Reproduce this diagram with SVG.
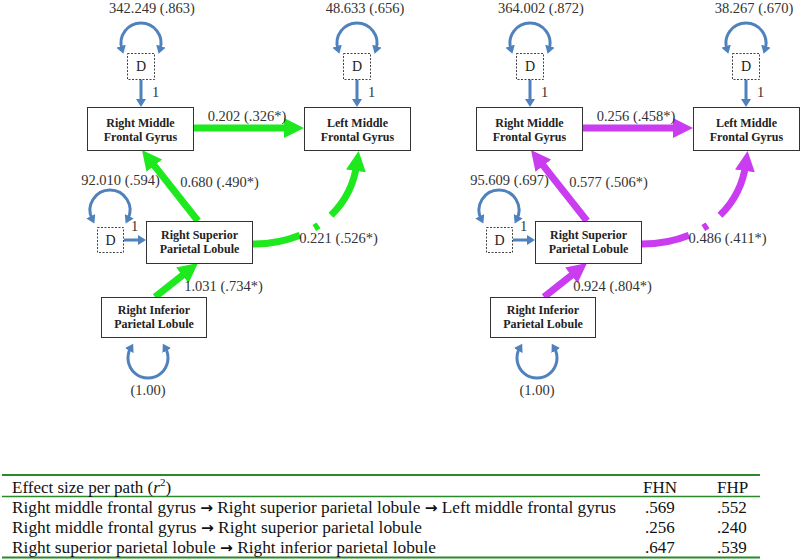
<svg xmlns="http://www.w3.org/2000/svg" width="800" height="560" viewBox="0 0 800 560">
<style>
.box{fill:#fff;stroke:#333;stroke-width:1}
.dbox{fill:#fff;stroke:#444;stroke-width:1;stroke-dasharray:2 1.5}
.nt{font-family:"Liberation Serif",serif;font-weight:bold;font-size:12px;fill:#222;text-anchor:middle}
.dt{font-family:"Liberation Serif",serif;font-size:14px;fill:#222;text-anchor:middle}
.lb{font-family:"Liberation Serif",serif;font-size:14.5px;fill:#333}
.lbm{font-family:"Liberation Serif",serif;font-size:14.5px;fill:#333;text-anchor:middle}
.blue{fill:none;stroke:#4f81bd;stroke-width:3;marker-end:url(#ab)}
.loop{fill:none;stroke:#4f81bd;stroke-width:3;marker-start:url(#abs);marker-end:url(#ab)}
.g{fill:none;stroke:#1ee81e;stroke-width:7;marker-end:url(#ag)}
.m{fill:none;stroke:#c93cf0;stroke-width:7;marker-end:url(#am)}
.tt{font-family:"Liberation Serif",serif;font-size:17px;fill:#111}
.ar{font-family:"DejaVu Sans",sans-serif;font-weight:bold;font-size:15px}
.tl{stroke:#2a8a2a}
</style>
<defs>
<marker id="ag" markerUnits="userSpaceOnUse" markerWidth="20" markerHeight="20" refX="8" refY="10" orient="auto" viewBox="0 0 20 20"><path d="M0,0 L20,10 L0,20 z" fill="#1ee81e"/></marker>
<marker id="am" markerUnits="userSpaceOnUse" markerWidth="20" markerHeight="20" refX="8" refY="10" orient="auto" viewBox="0 0 20 20"><path d="M0,0 L20,10 L0,20 z" fill="#c93cf0"/></marker>
<marker id="ab" markerUnits="userSpaceOnUse" markerWidth="10" markerHeight="10" refX="3" refY="5" orient="auto" viewBox="0 0 10 10"><path d="M0,0 L8,5 L0,10 z" fill="#4f81bd"/></marker>
<marker id="abs" markerUnits="userSpaceOnUse" markerWidth="10" markerHeight="10" refX="3" refY="5" orient="auto-start-reverse" viewBox="0 0 10 10"><path d="M0,0 L8,5 L0,10 z" fill="#4f81bd"/></marker>
</defs>

<!-- Left model (FHN) -->
<g id="left-model">
<g id="connectors-left">
<path class="loop" d="M121.9,49 A20,20 0 1 1 160.1,49"/>
<path class="loop" d="M337.9,49 A20,20 0 1 1 376.1,49"/>
<path class="loop" d="M92.1,219 A20,20 0 1 1 127.9,219"/>
<path class="loop" d="M130.7,348 A20,20 0 1 0 165.3,348"/>
<path class="blue" d="M141,79 L141,102"/>
<path class="blue" d="M357,79 L357,102"/>
<path class="blue" d="M124,240 L141,240"/>
<path class="g" d="M194,128 L292,128"/>
<path class="g" d="M198,221 L149.4,159.4"/>
<path class="g" d="M155,297 L188.6,270.4"/>
<path class="g" d="M253,244 C305,244 350,215 357,163" stroke-dasharray="48 16 5 16 300"/>
<text class="lbm" x="152" y="13">342.249 (.863)</text>
<text class="lbm" x="365" y="13">48.633 (.656)</text>
<text class="lb" x="152" y="97">1</text>
<text class="lb" x="368" y="97">1</text>
<text class="lbm" x="247" y="121">0.202 (.326*)</text>
<text class="lbm" x="120.5" y="185">92.010 (.594)</text>
<text class="lbm" x="219.5" y="187">0.680 (.490*)</text>
<text class="lb" x="131" y="231">1</text>
<text class="lbm" x="338.5" y="243">0.221 (.526*)</text>
<text class="lbm" x="223.5" y="291">1.031 (.734*)</text>
<text class="lbm" x="148" y="395">(1.00)</text>
</g>
<g id="L-D1"><rect class="dbox" x="127.5" y="53.5" width="27" height="26"/><text class="dt" x="141" y="71">D</text></g>
<g id="L-D2"><rect class="dbox" x="343.5" y="53.5" width="27" height="26"/><text class="dt" x="357" y="71">D</text></g>
<g id="L-D3"><rect class="dbox" x="97.5" y="227.5" width="26" height="25"/><text class="dt" x="110.5" y="245">D</text></g>
<g id="L-RMFG"><rect class="box" x="87.5" y="107.5" width="106" height="43"/><text class="nt" x="140.5" y="127">Right Middle</text><text class="nt" x="140.5" y="141">Frontal Gyrus</text></g>
<g id="L-LMFG"><rect class="box" x="304.5" y="107.5" width="106" height="43"/><text class="nt" x="357.5" y="127">Left Middle</text><text class="nt" x="357.5" y="141">Frontal Gyrus</text></g>
<g id="L-RSPL"><rect class="box" x="146.5" y="221.5" width="106" height="42"/><text class="nt" x="199.5" y="238.5">Right Superior</text><text class="nt" x="199.5" y="252.5">Parietal Lobule</text></g>
<g id="L-RIPL"><rect class="box" x="101.5" y="297.5" width="105" height="40"/><text class="nt" x="154" y="314">Right Inferior</text><text class="nt" x="154" y="328">Parietal Lobule</text></g>
</g>

<!-- Right model (FHP) -->
<g id="right-model" transform="translate(389,0)">
<g id="connectors-right">
<path class="loop" d="M121.9,49 A20,20 0 1 1 160.1,49"/>
<path class="loop" d="M337.9,49 A20,20 0 1 1 376.1,49"/>
<path class="loop" d="M92.1,219 A20,20 0 1 1 127.9,219"/>
<path class="loop" d="M130.7,348 A20,20 0 1 0 165.3,348"/>
<path class="blue" d="M141,79 L141,102"/>
<path class="blue" d="M357,79 L357,102"/>
<path class="blue" d="M124,240 L141,240"/>
<path class="m" d="M194,128 L292,128"/>
<path class="m" d="M198,221 L149.4,159.4"/>
<path class="m" d="M155,297 L188.6,270.4"/>
<path class="m" d="M253,244 C305,244 350,215 357,163" stroke-dasharray="48 16 5 16 300"/>
<text class="lbm" x="152" y="13">364.002 (.872)</text>
<text class="lbm" x="365" y="13">38.267 (.670)</text>
<text class="lb" x="152" y="97">1</text>
<text class="lb" x="368" y="97">1</text>
<text class="lbm" x="247" y="121">0.256 (.458*)</text>
<text class="lbm" x="120.5" y="185">95.609 (.697)</text>
<text class="lbm" x="219.5" y="187">0.577 (.506*)</text>
<text class="lb" x="131" y="231">1</text>
<text class="lbm" x="338.5" y="243">0.486 (.411*)</text>
<text class="lbm" x="223.5" y="291">0.924 (.804*)</text>
<text class="lbm" x="148" y="395">(1.00)</text>
</g>
<g id="R-D1"><rect class="dbox" x="127.5" y="53.5" width="27" height="26"/><text class="dt" x="141" y="71">D</text></g>
<g id="R-D2"><rect class="dbox" x="343.5" y="53.5" width="27" height="26"/><text class="dt" x="357" y="71">D</text></g>
<g id="R-D3"><rect class="dbox" x="97.5" y="227.5" width="26" height="25"/><text class="dt" x="110.5" y="245">D</text></g>
<g id="R-RMFG"><rect class="box" x="87.5" y="107.5" width="106" height="43"/><text class="nt" x="140.5" y="127">Right Middle</text><text class="nt" x="140.5" y="141">Frontal Gyrus</text></g>
<g id="R-LMFG"><rect class="box" x="304.5" y="107.5" width="106" height="43"/><text class="nt" x="357.5" y="127">Left Middle</text><text class="nt" x="357.5" y="141">Frontal Gyrus</text></g>
<g id="R-RSPL"><rect class="box" x="146.5" y="221.5" width="106" height="42"/><text class="nt" x="199.5" y="238.5">Right Superior</text><text class="nt" x="199.5" y="252.5">Parietal Lobule</text></g>
<g id="R-RIPL"><rect class="box" x="101.5" y="297.5" width="105" height="40"/><text class="nt" x="154" y="314">Right Inferior</text><text class="nt" x="154" y="328">Parietal Lobule</text></g>
</g>

<!-- Table -->
<g id="table">
<line class="tl" x1="2" y1="475" x2="760" y2="475" stroke-width="2"/>
<line class="tl" x1="2" y1="496.5" x2="760" y2="496.5" stroke-width="1.3"/>
<line class="tl" x1="2" y1="557.5" x2="760" y2="557.5" stroke-width="2"/>
<text class="tt" x="12" y="492.5">Effect size per path (<tspan font-style="italic">r</tspan><tspan font-size="11" dy="-7">2</tspan><tspan dy="7">)</tspan></text>
<text class="tt" x="643" y="492.5">FHN</text>
<text class="tt" x="717" y="492.5">FHP</text>
<text class="tt" x="12" y="513" textLength="604" lengthAdjust="spacingAndGlyphs">Right middle frontal gyrus <tspan class="ar">→</tspan> Right superior parietal lobule <tspan class="ar">→</tspan> Left middle frontal gyrus</text>
<text class="tt" x="645" y="513">.569</text>
<text class="tt" x="717" y="513">.552</text>
<text class="tt" x="12" y="533" textLength="410" lengthAdjust="spacingAndGlyphs">Right middle frontal gyrus <tspan class="ar">→</tspan> Right superior parietal lobule</text>
<text class="tt" x="645" y="533">.256</text>
<text class="tt" x="717" y="533">.240</text>
<text class="tt" x="12" y="553" textLength="424" lengthAdjust="spacingAndGlyphs">Right superior parietal lobule <tspan class="ar">→</tspan> Right inferior parietal lobule</text>
<text class="tt" x="645" y="553">.647</text>
<text class="tt" x="717" y="553">.539</text>
</g>
</svg>
